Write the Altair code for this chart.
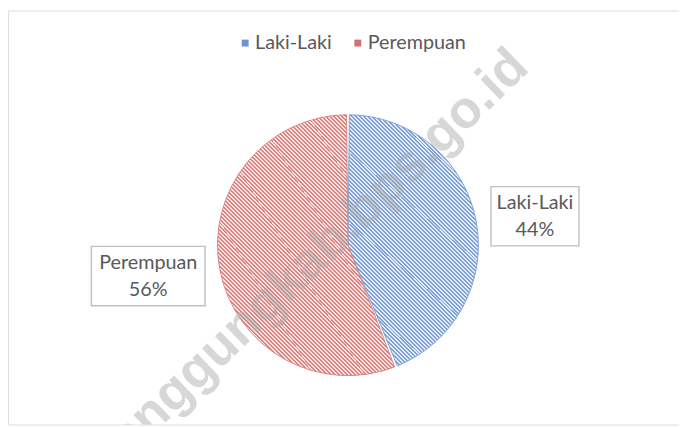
import math
import altair as alt
import pandas as pd

# ---- data ----
kategori = ["Laki-Laki", "Perempuan"]
persen = [44, 56]
watermark_text = "temanggungkab.bps.go.id"

# ---- styles ----
FONT = "Lato"
TEXT_COLOR = "#595959"
LEGEND_COLORS = ["#6E95CB", "#CF716F"]
STRIPE = {
    "Laki-Laki": ("#7FA3D6", "#E4ECF8"),
    "Perempuan": ("#DA8482", "#F9E4E3"),
}
OUTLINE = {"Laki-Laki": "#7FA3D6", "Perempuan": "#DA8482"}
BOX_HALF_W = {"Laki-Laki": 44.5, "Perempuan": 57.5}
BOX_HALF_H = 30
CX, CY, R = 344, 237.5, 132
R_LABEL = 147
LABEL_ROT = 0.035  # small clockwise nudge of the label angle (Excel best-fit look)
W, H = 679, 419

df = pd.DataFrame({"kategori": kategori, "persen": persen, "urut": range(len(kategori))})


def wedge_bbox(a0, a1, r):
    """bounding box of a pie wedge (angles clockwise from 12 o'clock, radians)"""
    pts = [(0.0, 0.0)]
    for a in (a0, a1):
        pts.append((r * math.sin(a), -r * math.cos(a)))
    for k in range(5):
        c = k * math.pi / 2
        if a0 < c < a1:
            pts.append((r * math.sin(c), -r * math.cos(c)))
    xs = [p[0] for p in pts]
    ys = [p[1] for p in pts]
    return max(xs) - min(xs), max(ys) - min(ys)


def hatch(dark, light, w, h, period=2 * math.sqrt(2), frac=0.5):
    # SVG objectBoundingBox gradient: choose vector so stripes run at 45 deg ("\")
    span = (w + h) / math.sqrt(2)
    n = int(math.ceil(span / period))
    k = n * period * math.sqrt(2) / (w * w + h * h)
    stops = []
    for i in range(n):
        a, b, c = i / n, (i + frac) / n, (i + 1) / n
        stops += [
            {"offset": a, "color": dark},
            {"offset": b, "color": dark},
            {"offset": b, "color": light},
            {"offset": c, "color": light},
        ]
    return {"gradient": "linear", "x1": 0, "y1": 1, "x2": k * w, "y2": 1 - k * h, "stops": stops}


total = sum(persen)
grads = {}
acc = 0
for kat, p in zip(kategori, persen):
    a0 = acc / total * 2 * math.pi
    acc += p
    a1 = acc / total * 2 * math.pi
    w, h = wedge_bbox(a0, a1, R)
    grads[kat] = hatch(STRIPE[kat][0], STRIPE[kat][1], w, h)

is_laki = f"datum.kategori == '{kategori[0]}'"

# invisible layer that only carries the legend
legend_layer = alt.Chart(df).mark_square(opacity=0, size=1).encode(
    x=alt.value(CX),
    y=alt.value(CY),
    color=alt.Color(
        "kategori:N",
        scale=alt.Scale(domain=kategori, range=LEGEND_COLORS),
        legend=alt.Legend(
            title=None,
            orient="none",
            legendX=230,
            legendY=23,
            direction="horizontal",
            symbolType="square",
            symbolSize=49,
            symbolOpacity=1,
            symbolStrokeWidth=0,
            labelFont=FONT,
            labelFontSize=20,
            labelColor=TEXT_COLOR,
            labelOffset=0,
            columnPadding=16,
        ),
    ),
)

pie = alt.Chart(df).mark_arc(outerRadius=R, padAngle=0.022, strokeWidth=1).encode(
    theta=alt.Theta("persen:Q", stack=True),
    order=alt.Order("urut:Q"),
    fill=alt.condition(is_laki, alt.value(grads[kategori[0]]), alt.value(grads[kategori[1]])),
    stroke=alt.condition(is_laki, alt.value(OUTLINE[kategori[0]]), alt.value(OUTLINE[kategori[1]])),
    x=alt.value(CX),
    y=alt.value(CY),
)

half_w_expr = f"datum.kategori == '{kategori[0]}' ? {BOX_HALF_W[kategori[0]]} : {BOX_HALF_W[kategori[1]]}"

label_base = (
    alt.Chart(df)
    .transform_joinaggregate(total="sum(persen)")
    .transform_window(cum="sum(persen)", sort=[alt.SortField("urut")], frame=[None, 0])
    .transform_calculate(mid=f"(datum.cum - datum.persen / 2) / datum.total * 2 * PI + {LABEL_ROT}")
    .transform_calculate(hw=half_w_expr)
    .transform_calculate(
        lx=f"{CX} + ({R_LABEL} + datum.hw) * sin(datum.mid)",
        ly=f"{CY} - ({R_LABEL} + datum.hw) * cos(datum.mid)",
        label="datum.kategori + '\\n' + datum.persen + '%'",
    )
    .transform_calculate(
        bx1="datum.lx - datum.hw",
        bx2="datum.lx + datum.hw",
        by1=f"datum.ly - {BOX_HALF_H}",
        by2=f"datum.ly + {BOX_HALF_H}",
    )
)

boxes = label_base.mark_rect(fill="white", stroke="#BFBFBF", strokeWidth=1.4).encode(
    x=alt.X("bx1:Q", scale=None, axis=None),
    x2="bx2:Q",
    y=alt.Y("by1:Q", scale=None, axis=None),
    y2="by2:Q",
)

labels = label_base.mark_text(
    font=FONT, fontSize=20, color=TEXT_COLOR, lineBreak="\n", lineHeight=27,
    align="center", baseline="middle", dy=-13,
).encode(
    x=alt.X("lx:Q", scale=None, axis=None),
    y=alt.Y("ly:Q", scale=None, axis=None),
    text="label:N",
)

wm = alt.Chart(pd.DataFrame({"t": [watermark_text]})).mark_text(
    font="Liberation Sans", fontWeight="bold", fontSize=53, color="#A6A6A6", opacity=0.45,
    angle=316, align="right", baseline="alphabetic", clip=True,
).encode(text="t:N", x=alt.value(529), y=alt.value(60))

chart = (
    alt.layer(legend_layer, pie, boxes, labels, wm)
    .properties(width=W, height=H, padding=0, autosize=alt.AutoSizeParams(type="none"))
    .configure_view(stroke="#D9D9D9", strokeWidth=1)
    .configure(background="white")
)

chart.save("out.html", embed_options={"renderer": "svg", "actions": False})
